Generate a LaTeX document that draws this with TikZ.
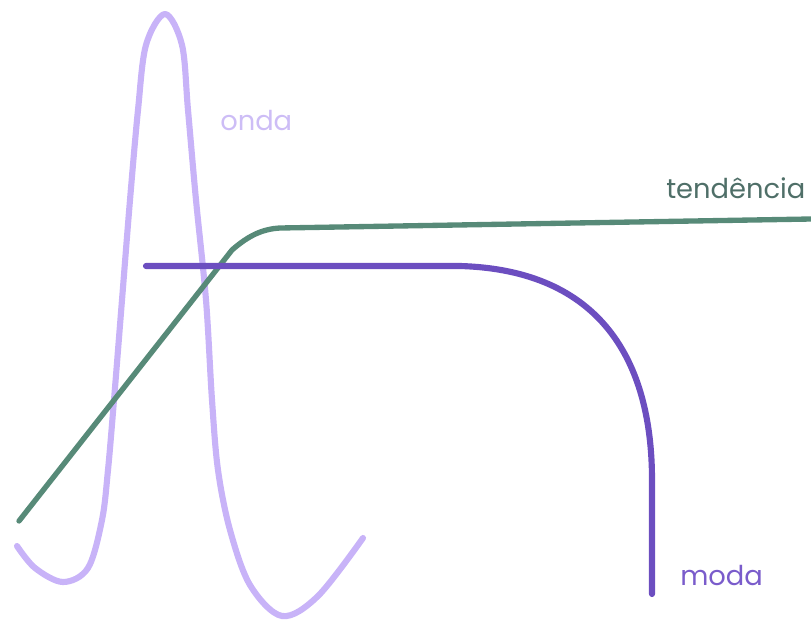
\documentclass[tikz,border=0pt]{standalone}
\usepackage{fontspec}
\setmainfont{Poppins}
\definecolor{wavec}{HTML}{C8B3F8}
\definecolor{wavetxt}{HTML}{CDBDF6}
\definecolor{trendc}{HTML}{578A78}
\definecolor{trendtxt}{HTML}{4F6F68}
\definecolor{fadc}{HTML}{6C4EC0}
\definecolor{fadtxt}{HTML}{7A5CCB}
\tikzset{
  curve/.style={line width=4.6pt, line cap=round, line join=round},
  lbl/.style={font=\fontsize{20.5}{22}\selectfont, inner sep=0pt}
}
\begin{document}
\begin{tikzpicture}[x=0.75pt,y=-0.75pt]
\useasboundingbox (0,0) rectangle (811,629);
% onda
\draw[curve, wavec] plot[smooth, tension=0.55] coordinates {
 (17,546) (35,568) (63,582) (88,568) (102,520) (108,470) (114,400) (122,300)
 (130,200) (138,110) (146,45) (165,14) (182,45) (188,110) (196,200) (206,300)
 (212,400) (218,470) (230,530) (250,585) (282,616) (318,596) (363,538)};
% tendencia
\coordinate (t0) at (19,521);
\coordinate (t1) at (232,250);
\coordinate (t2) at (280,228);
\coordinate (t3) at (811,219);
\draw[curve, trendc, line width=4pt] (t0) -- (t1) .. controls (248,236) and (262,229) .. (t2) -- (t3);
% moda
\coordinate (m0) at (146,266);
\coordinate (m1) at (460,266);
\coordinate (m2) at (652,480);
\coordinate (m3) at (652,594);
\draw[curve, fadc] (m0) -- (m1) .. controls (600,270) and (652,360) .. (m2) -- (m3);
% labels
\node[lbl, text=wavetxt, anchor=base west] (onda) at (220,130) {onda};
\node[lbl, text=trendtxt, anchor=base west] (tend) at (666,198) {tendência};
\node[lbl, text=fadtxt, anchor=base west] (moda) at (680,585) {moda};
\end{tikzpicture}
\end{document}
